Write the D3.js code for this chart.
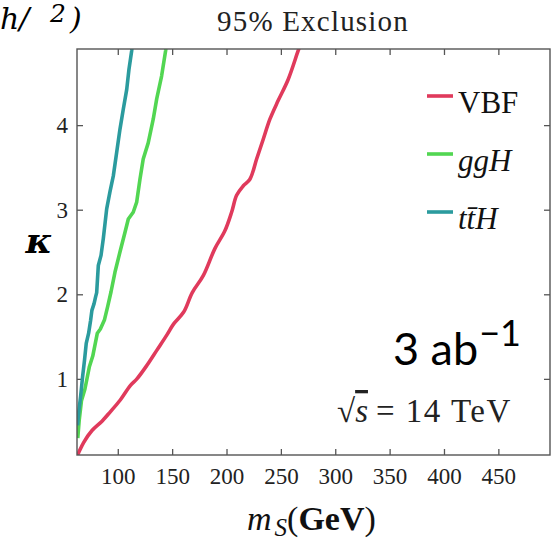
<!DOCTYPE html>
<html>
<head>
<meta charset="utf-8">
<script src="https://cdn.jsdelivr.net/npm/d3@7"></script>
<style>
  body { margin: 0; background: #fff; }
</style>
</head>
<body>
<script>
const width = 552;
const height = 543;
const margin = { top: 49, right: 2, bottom: 88, left: 77 };

// x ticks (GeV) and y ticks (kappa)
const xTicks = [100, 150, 200, 250, 300, 350, 400, 450];
const yTicks = [1, 2, 3, 4];

// 95% exclusion contours
const vbfMass = [63.0, 64.1, 68.7, 76.3, 85.5, 93.1, 102.3, 111.5, 117.6, 126.8, 136.0, 145.2, 151.4, 160.6, 168.5, 178.6, 189.3, 198.5, 204.7, 209.3, 215.3, 221.5, 227.7, 233.7, 239.9, 247.5, 256.7, 265.9, 268.5];
const vbfKappa = [0.10, 0.13, 0.25, 0.39, 0.50, 0.61, 0.75, 0.92, 1.00, 1.16, 1.34, 1.52, 1.65, 1.79, 2.02, 2.22, 2.54, 2.75, 2.97, 3.17, 3.28, 3.36, 3.60, 3.83, 4.07, 4.29, 4.54, 4.88, 4.97];

const ggHMass = [63.2, 64.6, 66.6, 69.8, 73.8, 77.0, 81.2, 84.0, 87.8, 90.8, 93.8, 97.4, 102.0, 106.6, 109.7, 114.2, 117.4, 120.4, 123.4, 128.0, 132.6, 135.8, 140.3, 144.0, 144.8];
const ggHKappa = [0.30, 0.52, 0.74, 0.88, 1.14, 1.27, 1.54, 1.59, 1.70, 1.86, 2.03, 2.26, 2.50, 2.73, 2.89, 2.97, 3.09, 3.36, 3.60, 3.79, 4.07, 4.31, 4.58, 4.88, 4.97];

const ttHMass = [63.0, 64.0, 65.8, 67.6, 69.4, 71.0, 73.2, 75.0, 76.2, 78.2, 79.6, 80.6, 82.1, 84.6, 86.7, 89.8, 92.8, 95.9, 99.0, 102.0, 105.1, 108.2, 110.3, 112.8, 113.5];
const ttHKappa = [0.45, 0.60, 0.79, 1.02, 1.22, 1.42, 1.54, 1.69, 1.81, 1.89, 1.97, 2.02, 2.34, 2.46, 2.66, 3.01, 3.21, 3.40, 3.68, 3.95, 4.19, 4.42, 4.66, 4.88, 4.97];

const seriesNames = ["VBF", "ggH", "ttH"];
const seriesColors = ["#e03a5c", "#52d652", "#2b9b9e"];

const series = [
  { name: "VBF", mass: vbfMass, kappa: vbfKappa, curve: d3.curveCatmullRom },
  { name: "ggH", mass: ggHMass, kappa: ggHKappa, curve: d3.curveLinear },
  { name: "ttH", mass: ttHMass, kappa: ttHKappa, curve: d3.curveLinear }
];

const innerW = width - margin.left - margin.right;
const innerH = height - margin.top - margin.bottom;

const svg = d3
  .select("body")
  .append("svg")
  .attr("width", width)
  .attr("height", height);

const xScale = d3.scaleLinear().domain([62.5, 497.5]).range([0, innerW]);
const yScale = d3.scaleLinear().domain([0.1, 4.9]).range([innerH, 0]);
const color = d3.scaleOrdinal().domain(seriesNames).range(seriesColors);

const serif = "Liberation Serif, serif";

svg
  .append("defs")
  .append("clipPath")
  .attr("id", "plot-clip")
  .append("rect")
  .attr("width", innerW)
  .attr("height", innerH);

const chart = svg
  .append("g")
  .attr("transform", `translate(${margin.left}, ${margin.top})`);

// axes, ticks pointing inward
function styleAxis(g) {
  g.select(".domain").remove();
  g.selectAll(".tick line").attr("stroke", "#555").attr("stroke-width", 1.3);
  g.selectAll("text")
    .attr("fill", "#222")
    .style("font-family", serif)
    .style("font-size", "23px");
}

chart
  .append("g")
  .attr("transform", `translate(0, ${innerH})`)
  .call(d3.axisBottom(xScale).tickValues(xTicks).tickSize(-6).tickPadding(13))
  .call(styleAxis);
chart
  .append("g")
  .call(d3.axisTop(xScale).tickValues(xTicks).tickSize(-6).tickFormat(""))
  .call(styleAxis);
chart
  .append("g")
  .call(d3.axisLeft(yScale).tickValues(yTicks).tickSize(-6).tickPadding(9).tickFormat(d3.format("d")))
  .call(styleAxis);
chart
  .append("g")
  .attr("transform", `translate(${innerW}, 0)`)
  .call(d3.axisRight(yScale).tickValues(yTicks).tickSize(-6).tickFormat(""))
  .call(styleAxis);

// curves
const line = d3.line();
series.forEach(s => {
  chart
    .append("path")
    .attr("clip-path", "url(#plot-clip)")
    .attr("fill", "none")
    .attr("stroke", color(s.name))
    .attr("stroke-width", 3.6)
    .attr("stroke-linejoin", "round")
    .attr("d", line.curve(s.curve)
      .x((d, i) => xScale(s.mass[i]))
      .y((d, i) => yScale(s.kappa[i]))(s.mass));
});

// frame
chart
  .append("rect")
  .attr("width", innerW)
  .attr("height", innerH)
  .attr("fill", "none")
  .attr("stroke", "#555")
  .attr("stroke-width", 1.4);

// legend
const legend = chart.append("g").attr("transform", `translate(${350}, ${47})`);
const legendRows = legend
  .selectAll("g")
  .data(seriesNames)
  .enter()
  .append("g")
  .attr("transform", (d, i) => `translate(0, ${i * 58})`);
legendRows
  .append("line")
  .attr("x1", 0)
  .attr("x2", 26)
  .attr("stroke", d => color(d))
  .attr("stroke-width", 3.6);
const legendText = legendRows
  .append("text")
  .attr("x", 31)
  .attr("y", 17)
  .style("font-family", serif)
  .style("font-size", "31px")
  .attr("fill", "#111");
legendText.filter(d => d === "VBF").text("VBF");
legendText.filter(d => d === "ggH").style("font-style", "italic").text("ggH");
legendText.filter(d => d === "ttH").style("font-style", "italic").text("tt\u0304H");

// title
svg
  .append("text")
  .attr("x", 313)
  .attr("y", 31)
  .attr("text-anchor", "middle")
  .style("font-family", serif)
  .style("font-size", "29px")
  .attr("letter-spacing", 1.2)
  .attr("fill", "#222")
  .text("95% Exclusion");

// cut-off text from the slide, top left
const corner = svg
  .append("text")
  .attr("y", 29)
  .style("font-family", "DejaVu Serif, serif")
  .style("font-style", "italic")
  .style("font-size", "30px")
  .attr("fill", "#000");
corner.append("tspan").attr("x", 0).text("h/");
corner.append("tspan").attr("x", 50).attr("dy", -7).style("font-size", "25px").text("2");
corner.append("tspan").attr("x", 70).attr("dy", 7).text(")");

// y label
svg
  .append("text")
  .attr("x", 39)
  .attr("y", 253)
  .attr("text-anchor", "middle")
  .style("font-family", "DejaVu Serif, serif")
  .style("font-style", "italic")
  .style("font-weight", "bold")
  .style("font-size", "36px")
  .attr("fill", "#000")
  .text("\u03ba");

// x label
const xLabel = svg
  .append("text")
  .attr("x", 247)
  .attr("y", 530)
  .style("font-family", serif)
  .style("font-size", "34px")
  .attr("fill", "#111");
xLabel.append("tspan").style("font-style", "italic").text("m");
xLabel.append("tspan").style("font-style", "italic").style("font-size", "25px").attr("dx", 3).attr("dy", 6).text("S");
xLabel.append("tspan").attr("dy", -6).text("(");
xLabel.append("tspan").style("font-weight", "bold").text("GeV");
xLabel.append("tspan").text(")");

// luminosity
const lumi = svg
  .append("text")
  .attr("x", 393)
  .attr("y", 365)
  .style("font-family", "Lato, Open Sans, sans-serif")
  .style("font-size", "45px")
  .attr("fill", "#000");
lumi.append("tspan").text("3 ab");
lumi.append("tspan").style("font-size", "36px").attr("dx", 1).attr("dy", -19).text("\u22121");

// energy
const energy = svg
  .append("text")
  .attr("x", 337)
  .attr("y", 422)
  .style("font-family", serif)
  .style("font-size", "33px")
  .attr("fill", "#222");
energy.append("tspan").text("\u221a");
energy.append("tspan").style("font-style", "italic").attr("text-decoration", "overline").text("s");
energy.append("tspan").attr("dx", 8).attr("letter-spacing", 1.5).text("= 14 TeV");
</script>
</body>
</html>
